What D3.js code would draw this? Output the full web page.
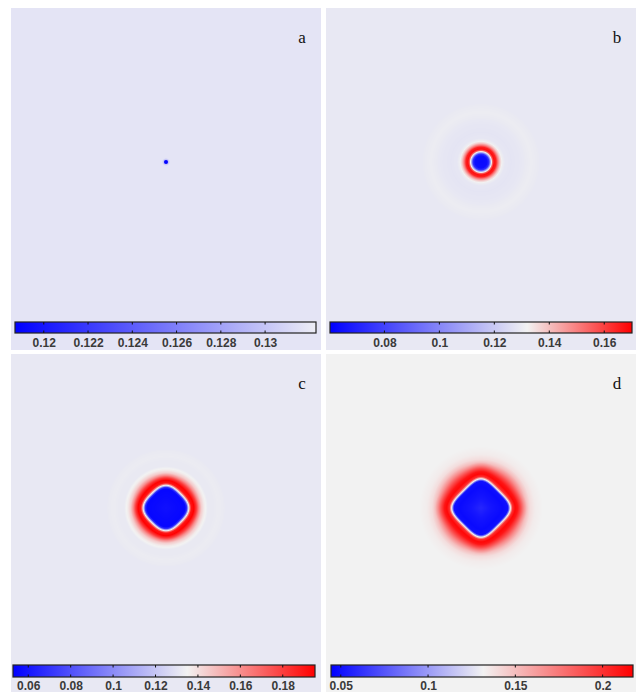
<!DOCTYPE html>
<html><head><meta charset="utf-8">
<script src="https://cdn.jsdelivr.net/npm/d3@7"></script>
<style>html,body{margin:0;padding:0;background:#fff;} svg{display:block}</style>
</head><body>
<svg id="fig" width="636" height="692"></svg>
<script>
// Panel letters
const panelLabels = ["a", "b", "c", "d"];

// Colour-bar tick values
const ticksA = [0.12, 0.122, 0.124, 0.126, 0.128, 0.13];
const ticksB = [0.08, 0.1, 0.12, 0.14, 0.16];
const ticksC = [0.06, 0.08, 0.1, 0.12, 0.14, 0.16, 0.18];
const ticksD = [0.05, 0.1, 0.15, 0.2];

// Colour-map stops: minimum, (white point), maximum
const stopsA = [0.1187, 0.1323];
const stopsB = [0.0602, 0.132, 0.1701];
const stopsC = [0.0528, 0.135, 0.1952];
const stopsD = [0.0444, 0.1317, 0.2174];

// Concentration profile from the centre of the grain outwards (grid cells -> value)
const radiusA = [0, 1.2, 2.1, 3.3, 400];
const valueA  = [0.1187, 0.119, 0.13, 0.1318, 0.1318];

const radiusB = [0, 5, 6.6, 7.85, 8.7, 9.5, 10.7, 12.4, 14, 15.7, 17.4, 19.8, 24.8, 31.4, 37.2, 41.3, 45.5, 49.6, 400];
const valueB  = [0.063, 0.064, 0.075, 0.11, 0.133, 0.155, 0.168, 0.165, 0.15, 0.138, 0.131, 0.1285, 0.128, 0.1285, 0.1295, 0.1303, 0.1296, 0.129, 0.129];

const radiusC = [0, 8.3, 14, 15.3, 16.1, 16.9, 17.8, 19, 21.5, 24, 26.4, 28.9, 31.4, 34.7, 38.8, 43, 46.3, 49.6, 400];
const valueC  = [0.058, 0.056, 0.055, 0.07, 0.11, 0.135, 0.165, 0.19, 0.195, 0.18, 0.16, 0.145, 0.137, 0.1318, 0.1318, 0.1328, 0.1324, 0.1315, 0.1315];

const radiusD = [0, 6.6, 14.9, 18.6, 19.4, 20.2, 21.1, 22.3, 24.8, 27.3, 30.6, 33.9, 37.2, 40.5, 44.6, 51.2, 400];
const valueD  = [0.058, 0.052, 0.048, 0.05, 0.08, 0.125, 0.16, 0.2, 0.215, 0.21, 0.19, 0.168, 0.15, 0.139, 0.134, 0.1317, 0.1317];

// Layout and shape settings for each panel
const panels = [
  { label: panelLabels[0], box: [11, 8, 321, 350], bar: [15, 322, 316, 333], ticks: ticksA, stops: stopsA,
    colors: ["#0000ff", "#ededf5"], radius: radiusA, value: valueA, p: 2, blend: [0, 1] },
  { label: panelLabels[1], box: [326, 8, 636, 350], bar: [330, 322, 632, 333], ticks: ticksB, stops: stopsB,
    colors: ["#0000ff", "#f2f2f2", "#ff0000"], radius: radiusB, value: valueB, p: 2, blend: [0, 1] },
  { label: panelLabels[2], box: [11, 354, 321, 692], bar: [13, 665, 315, 677], ticks: ticksC, stops: stopsC,
    colors: ["#0000ff", "#f2f2f2", "#ff0000"], radius: radiusC, value: valueC, p: 3, blend: [16.5, 26.4] },
  { label: panelLabels[3], box: [326, 354, 636, 692], bar: [331, 665, 633, 677], ticks: ticksD, stops: stopsD,
    colors: ["#0000ff", "#f2f2f2", "#ff0000"], radius: radiusD, value: valueD, p: 4, blend: [20.7, 33] }
];

const GRID = 256;      // simulation grid size (cells)
const FIELD_W = 310;   // drawn width of the grid
const FIELD_H = 308;   // drawn height of the grid

const svg = d3.select("#fig");
const defs = svg.append("defs");

panels.forEach((P, i) => {
  const [x0, y0, x1, y1] = P.box;
  const w = x1 - x0, h = y1 - y0;

  const gx = d3.scaleLinear().domain([0, GRID]).range([x0, x0 + FIELD_W]);
  const gy = d3.scaleLinear().domain([0, GRID]).range([y0, y0 + FIELD_H]);
  const profile = d3.scaleLinear().domain(P.radius).range(P.value).clamp(true);
  const cmap = d3.scaleLinear().domain(P.stops).range(P.colors)
    .interpolate(d3.interpolateRgb).clamp(true);

  // lookup table of the colour map
  const vmin = P.stops[0], vmax = P.stops[P.stops.length - 1];
  const lut = d3.range(1024).map(k => d3.rgb(cmap(vmin + (vmax - vmin) * k / 1023)));

  const canvas = document.createElement("canvas");
  canvas.width = w; canvas.height = h;
  const ctx = canvas.getContext("2d");
  const img = ctx.createImageData(w, h);
  const c = GRID / 2;
  const S2 = Math.SQRT1_2;
  for (let py = 0; py < h; py++) {
    const yy = gy.invert(y0 + py + 0.5) - c;
    for (let px = 0; px < w; px++) {
      const xx = gx.invert(x0 + px + 0.5) - c;
      const dE = Math.hypot(xx, yy);
      let d = dE;
      if (P.p !== 2) {
        const u = Math.abs((xx + yy) * S2), v = Math.abs((xx - yy) * S2);
        const dS = Math.pow(Math.pow(u, P.p) + Math.pow(v, P.p), 1 / P.p);
        const s = Math.max(0, Math.min(1, (dS - P.blend[0]) / (P.blend[1] - P.blend[0])));
        d = dS + (dE - dS) * s;
      }
      const val = profile(d);
      let k = Math.round((val - vmin) / (vmax - vmin) * 1023);
      k = Math.max(0, Math.min(1023, k));
      const col = lut[k];
      const o = (py * w + px) * 4;
      img.data[o] = col.r; img.data[o + 1] = col.g; img.data[o + 2] = col.b; img.data[o + 3] = 255;
    }
  }
  ctx.putImageData(img, 0, 0);

  const g = svg.append("g");
  g.append("image")
    .attr("x", x0).attr("y", y0).attr("width", w).attr("height", h)
    .attr("preserveAspectRatio", "none")
    .attr("href", canvas.toDataURL());

  // panel letter
  g.append("text")
    .attr("x", x0 + w - 19).attr("y", y0 + 35)
    .attr("text-anchor", "middle")
    .attr("font-family", "Liberation Serif, Times New Roman, serif")
    .attr("font-size", 17).attr("fill", "#111")
    .text(P.label);

  // colour bar
  const [bx0, by0, bx1, by1] = P.bar;
  const cb = d3.scaleLinear().domain([vmin, vmax]).range([bx0, bx1]);
  const gid = "cbar" + i;
  const grad = defs.append("linearGradient").attr("id", gid)
    .attr("gradientUnits", "userSpaceOnUse")
    .attr("x1", bx0).attr("x2", bx1).attr("y1", 0).attr("y2", 0);
  P.stops.forEach((sv, j) => {
    grad.append("stop").attr("offset", (cb(sv) - bx0) / (bx1 - bx0)).attr("stop-color", P.colors[j]);
  });
  g.append("rect")
    .attr("x", bx0).attr("y", by0).attr("width", bx1 - bx0).attr("height", by1 - by0)
    .attr("fill", `url(#${gid})`).attr("stroke", "#222").attr("stroke-width", 1.2);

  g.selectAll(".tk").data(P.ticks).enter().append("path")
    .attr("d", t => `M${cb(t)},${by0}v2.5M${cb(t)},${by1}v-2.5`)
    .attr("stroke", "#111").attr("stroke-width", 1);

  const axis = d3.axisBottom(cb).tickValues(P.ticks).tickSize(0).tickPadding(i < 2 ? 5.5 : 4)
    .tickFormat(t => String(t));
  const ag = g.append("g").attr("transform", `translate(0,${by1})`).call(axis);
  ag.select(".domain").remove();
  ag.selectAll("text")
    .attr("font-family", "Liberation Sans, Arial, sans-serif")
    .attr("font-size", 12).attr("font-weight", "bold").attr("fill", "#3a3a3a");
});
</script>
</body></html>
